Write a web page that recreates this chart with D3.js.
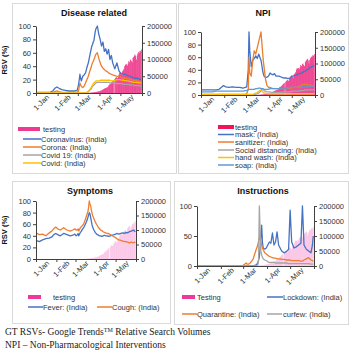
<!DOCTYPE html>
<html>
<head>
<meta charset="utf-8">
<script src="https://cdn.jsdelivr.net/npm/d3@7/dist/d3.min.js"></script>
<style>
body { margin: 0; background: #fff; }
svg { display: block; font-family: "Liberation Sans", Arial, sans-serif; }
</style>
</head>
<body>
<script>
var WIDTH = 350;
var HEIGHT = 361;

// day offsets from 1-Jan-2020 shared by every line series
var days = [0,5,10,15,20,24,27,30,33,37, 42,47,52,56,59,61,63,64,65,67,
            69,71,73,75,77,79,80,81,82,83, 84,85,86,88,90,92,94,96,98,100,
            102,104,106,108,110,113,116,119,121,123, 126,129,132,135,137,139,142,145,148,150,151];

// Disease related
var coronavirus = [1,1,1,1,1,3,7,9,7,5, 4,3,3,3,4,12,28,22,18,25,
                   27,30,38,45,55,65,70,72,76,78, 85,92,96,100,88,80,70,76,62,66,
                   58,65,50,56,45,36,45,33,30,29, 28,27,26,25,24,23,22,22,21,20,20];
var corona = [0,0,0,0,0,1,2,3,2,1, 1,1,1,1,1,3,15,12,10,8,
              10,15,20,25,32,38,42,45,47,50, 52,56,58,60,52,45,40,37,35,33,
              32,30,29,28,27,26,25,24,24,23, 22,22,21,20,20,19,19,18,17,17,16];
var covid19 = [0,0,0,0,0,0,0,0,0,0, 0,0,0,0,0,0,0,0,0,0,
               0,0,1,2,4,6,8,10,11,12, 13,14,15,16,16,16,16,16,16,16,
               16,16,15,15,15,15,14,14,14,14, 13,13,13,12,12,12,11,11,11,10,10];
var covid = [0,0,0,0,0,0,0,0,0,0, 0,0,0,0,0,0,0,0,0,0,
             0,0,0,2,5,8,10,12,14,15, 16,17,18,18,18,19,19,19,19,19,
             19,19,19,18,18,19,20,20,20,19, 19,18,18,17,17,16,16,16,15,15,15];

// NPI
var mask = [8,8,8,8,8,9,12,15,13,12, 13,12,12,11,12,13,40,100,70,45,
            55,58,62,58,65,58,55,48,40,34, 30,29,28,28,30,35,33,32,34,30,
            30,30,29,28,27,27,26,27,30,30, 31,33,34,35,37,38,40,43,45,46,47];
var sanitizer = [1,1,1,1,1,1,1,1,1,1, 1,1,1,1,1,2,10,60,35,30,
                 55,70,65,75,85,95,100,85,70,55, 45,35,25,15,12,12,11,10,10,10,
                 10,10,10,10,10,11,11,11,11,12, 12,13,14,16,17,17,16,16,15,15,15];
var socialDistancing = [0,0,0,0,0,0,0,0,0,0, 0,0,0,0,0,0,0,0,0,0,
                        0,1,1,2,3,5,7,9,8,8, 7,6,6,5,5,5,4,4,4,4,
                        4,4,4,4,5,5,5,5,6,6, 6,6,7,7,7,8,8,8,8,8,8];
var handWash = [1,1,1,1,1,1,1,1,1,1, 1,1,1,1,1,1,1,1,1,1,
                1,2,3,4,6,8,7,6,5,4, 3,3,3,2,2,2,2,2,2,2,
                2,2,2,2,2,2,2,2,2,2, 2,2,2,2,2,2,2,2,2,2,2];
var soap = [5,5,5,5,6,6,6,6,6,6, 6,6,6,6,7,7,8,9,9,9,
            9,9,10,10,11,11,10,10,10,10, 9,9,9,9,9,10,10,10,10,10,
            10,10,11,11,11,11,11,12,12,12, 12,12,12,13,13,13,13,14,14,14,14];

// Symptoms
var fever = [32,30,33,35,36,38,42,44,42,40, 44,42,40,41,43,40,42,44,40,45,
             48,52,55,60,65,72,76,80,78,72, 66,60,55,50,46,43,42,40,40,39,
             40,41,40,40,39,40,41,42,43,44, 43,44,45,44,46,45,47,48,50,48,47];
var cough = [45,42,43,40,45,48,52,55,52,50, 54,50,48,50,52,50,50,52,48,53,
             56,58,62,68,75,82,90,100,95,92, 85,80,75,70,64,60,56,53,50,49,
             47,46,45,44,44,42,40,38,37,35, 33,32,31,30,30,29,28,29,28,29,28];

// Instructions
var lockdown = [0,0,0,0,0,0,0,0,0,0, 0,0,0,0,0,0,0,0,0,0,
                0,0,0,1,2,5,10,15,30,50, 68,40,30,28,30,35,40,38,55,35,
                40,57,35,30,25,22,24,28,93,40, 30,32,35,38,100,35,28,25,22,35,50];
var quarantine = [0,0,0,0,0,0,0,0,0,0, 0,0,0,0,0,2,4,5,3,3,
                  5,8,12,20,28,35,42,48,46,40, 35,30,27,22,20,18,16,15,14,13,
                  13,12,12,12,11,11,10,10,10,9, 9,9,9,8,8,10,12,14,10,9,8];
var curfew = [0,0,0,0,0,0,0,0,0,0, 0,0,0,0,0,0,0,0,0,0,
              0,0,0,0,0,2,10,100,55,25, 18,15,12,10,9,7,6,6,6,6,
              5,5,5,5,5,5,5,4,4,4, 4,4,4,4,4,4,4,4,3,3,3];

// daily tests, from 15-Mar (day 74) to 31-May
var testStart = 74;
var testing = [300,500,600,800,1000,1200,1500,
               1800,2000,2200,2500,2800,3000,3500,
               4000,4500,5000,5500,6000,7000,8000,
               9000,10000,12000,13000,14000,15000,16000,
               17000,18000,22000,25000,26000,28000,30000,
               33000,36000,38000,0,42000,45000,48000,
               46000,45000,52000,55000,60000,62000,58000,
               55000,65000,68000,72000,80000,85000,84000,
               86000,82000,88000,95000,92000,98000,100000,
               95000,92000,105000,108000,112000,115000,110000,
               100000,112000,118000,122000,120000,126000,125000,
               130000];

var rsvTicks = [0,20,40,60,80,100];
var rsvTicksCoarse = [0,50,100];
var testTicks = [0,50000,100000,150000,200000];
var monthTicks = ["2020-01-01","2020-02-01","2020-03-01","2020-04-01","2020-05-01","2020-06-01"];

var BLUE = "#4472c4", ORANGE = "#ed7d31", GREY = "#a5a5a5", GOLD = "#ffc000", SKY = "#5b9bd5";

var parse = d3.timeParse("%Y-%m-%d");
var start = parse("2020-01-01");
var end = parse("2020-06-01");
var months = monthTicks.map(parse);
var fmt = d3.timeFormat("%-d-%b");

var dayDate = function (d) { return d3.timeDay.offset(start, d); };

var svg = d3.select("body").append("svg")
    .attr("width", WIDTH)
    .attr("height", HEIGHT);

var drawPanel = function (p) {
  var g = svg.append("g");

  g.append("rect")
    .attr("x", p.box[0] + 0.5).attr("y", p.box[1] + 0.5)
    .attr("width", p.box[2] - p.box[0]).attr("height", p.box[3] - p.box[1])
    .attr("fill", "#fff").attr("stroke", "#d9d9d9");

  g.append("text")
    .attr("x", p.title[0]).attr("y", p.title[1])
    .attr("text-anchor", "middle")
    .style("font-size", "9px").style("font-weight", "bold").style("fill", "#111")
    .text(p.name);

  var x = d3.scaleTime().domain([start, end]).range([p.x0, p.x1]);
  var y = d3.scaleLinear().domain([0, 100]).range([p.y1, p.y0]);
  var yR = d3.scaleLinear().domain([0, 200000]).range([p.y1, p.y0]);

  // testing bars
  var bw = (x(dayDate(1)) - x(dayDate(0))) * 0.85;
  g.append("g").selectAll("rect")
    .data(testing)
    .enter()
    .append("rect")
    .attr("x", function (d, i) { return x(dayDate(testStart + i)) - bw / 2; })
    .attr("width", bw)
    .attr("y", function (d) { return yR(d); })
    .attr("height", function (d) { return p.y1 - yR(d); })
    .attr("fill", p.barColor);

  // lines
  p.series.forEach(function (s) {
    var line = d3.line()
      .x(function (d, i) { return x(dayDate(days[i])); })
      .y(function (d) { return y(d); });
    g.append("path")
      .attr("d", line(s.values))
      .attr("fill", "none")
      .attr("stroke", s.color)
      .attr("stroke-width", 1.3)
      .attr("stroke-linejoin", "round");
  });

  var styleAxis = function (sel) {
    sel.select(".domain").attr("stroke", "#404040");
    sel.selectAll(".tick line").attr("stroke", "#404040");
    sel.selectAll("text").style("font-size", "7.5px").style("fill", "#333")
      .style("font-family", "\"Liberation Sans\", Arial, sans-serif");
  };

  g.append("g")
    .attr("transform", "translate(" + p.x0 + ",0)")
    .call(d3.axisLeft(y).tickValues(p.leftTicks).tickSize(3).tickSizeOuter(0).tickPadding(2))
    .call(styleAxis);

  g.append("g")
    .attr("transform", "translate(" + p.x1 + ",0)")
    .call(d3.axisRight(yR).tickValues(testTicks).tickSize(3).tickSizeOuter(0).tickPadding(2)
      .tickFormat(d3.format("d")))
    .call(styleAxis);

  var xa = g.append("g")
    .attr("transform", "translate(0," + p.y1 + ")")
    .call(d3.axisBottom(x).tickValues(months).tickSize(3).tickSizeOuter(0)
      .tickFormat(function (d) { return d < end ? fmt(d) : ""; }))
    .call(styleAxis);
  xa.selectAll("text")
    .attr("x", 6).attr("y", 10).attr("dy", "0.35em")
    .attr("transform", "rotate(-45)")
    .style("text-anchor", "end");

  if (p.rsv) {
    g.append("text")
      .attr("transform", "translate(" + p.rsv[0] + "," + p.rsv[1] + ") rotate(-90)")
      .attr("text-anchor", "middle")
      .style("font-size", "7.5px").style("font-weight", "bold").style("fill", "#111")
      .text("RSV (%)");
  }

  // legend
  p.legend.forEach(function (l) {
    if (l.bar) {
      g.append("rect")
        .attr("x", l.x0).attr("y", l.y - 2)
        .attr("width", l.x1 - l.x0).attr("height", 4)
        .attr("fill", l.color);
    } else {
      g.append("line")
        .attr("x1", l.x0).attr("x2", l.x1)
        .attr("y1", l.y).attr("y2", l.y)
        .attr("stroke", l.color).attr("stroke-width", 1.5);
    }
    g.append("text")
      .attr("x", l.tx).attr("y", l.y).attr("dy", "0.35em")
      .style("font-size", "7.5px").style("fill", "#333")
      .text(l.label);
  });
};

drawPanel({
  name: "Disease related", box: [12, 3, 176, 173], title: [94, 16],
  x0: 36, x1: 142, y0: 26, y1: 93, leftTicks: rsvTicks, rsv: [7, 60],
  barColor: "#e8006a",
  series: [
    {values: coronavirus, color: BLUE},
    {values: corona, color: ORANGE},
    {values: covid19, color: GREY},
    {values: covid, color: GOLD}
  ],
  legend: [
    {label: "testing", color: "#f03a92", bar: true, x0: 18, x1: 40, tx: 43, y: 129},
    {label: "Coronavirus: (India)", color: BLUE, x0: 23, x1: 41, tx: 41, y: 139},
    {label: "Corona: (India)", color: ORANGE, x0: 23, x1: 41, tx: 41, y: 147},
    {label: "Covid 19: (India)", color: GREY, x0: 23, x1: 41, tx: 41, y: 155},
    {label: "Covid: (India)", color: GOLD, x0: 23, x1: 41, tx: 41, y: 163}
  ]
});

drawPanel({
  name: "NPI", box: [178, 3, 348, 173], title: [263, 16],
  x0: 201, x1: 315, y0: 32, y1: 95, leftTicks: rsvTicks,
  barColor: "#e8006a",
  series: [
    {values: mask, color: BLUE},
    {values: sanitizer, color: ORANGE},
    {values: socialDistancing, color: GREY},
    {values: handWash, color: GOLD},
    {values: soap, color: SKY}
  ],
  legend: [
    {label: "testing", color: "#f0145a", bar: true, x0: 218, x1: 234, tx: 235, y: 127},
    {label: "mask: (India)", color: BLUE, x0: 218, x1: 234, tx: 235, y: 134.5},
    {label: "sanitizer: (India)", color: ORANGE, x0: 218, x1: 234, tx: 235, y: 142},
    {label: "Social distancing: (India)", color: GREY, x0: 218, x1: 234, tx: 235, y: 150},
    {label: "hand wash: (India)", color: GOLD, x0: 218, x1: 234, tx: 235, y: 157.5},
    {label: "soap: (India)", color: SKY, x0: 218, x1: 234, tx: 235, y: 165}
  ]
});

drawPanel({
  name: "Symptoms", box: [12, 181, 170, 323], title: [90, 194],
  x0: 36, x1: 136, y0: 201, y1: 259, leftTicks: rsvTicks, rsv: [7, 230],
  barColor: "#f9b3de",
  series: [
    {values: fever, color: BLUE},
    {values: cough, color: ORANGE}
  ],
  legend: [
    {label: "testing", color: "#f0379a", bar: true, x0: 28, x1: 41, tx: 53, y: 297},
    {label: "Fever: (India)", color: BLUE, x0: 28, x1: 43, tx: 43, y: 307},
    {label: "Cough: (India)", color: ORANGE, x0: 97, x1: 112, tx: 112, y: 307}
  ]
});

drawPanel({
  name: "Instructions", box: [174, 181, 348, 324], title: [263, 194],
  x0: 197, x1: 314, y0: 206, y1: 266, leftTicks: rsvTicksCoarse,
  barColor: "#f9b3de",
  series: [
    {values: lockdown, color: BLUE},
    {values: quarantine, color: ORANGE},
    {values: curfew, color: GREY}
  ],
  legend: [
    {label: "Testing", color: "#f0379a", bar: true, x0: 182, x1: 195, tx: 197, y: 297},
    {label: "Lockdown: (India)", color: BLUE, x0: 267, x1: 283, tx: 283, y: 297},
    {label: "Quarantine: (India)", color: ORANGE, x0: 182, x1: 197, tx: 197, y: 314},
    {label: "curfew: (India)", color: GREY, x0: 267, x1: 282, tx: 283, y: 314}
  ]
});

// footnotes
var notes = svg.append("g")
  .style("font-family", "\"Liberation Serif\", \"Times New Roman\", serif")
  .style("font-size", "9.5px").style("fill", "#222");
var n1 = notes.append("text").attr("x", 5).attr("y", 335);
n1.append("tspan").text("GT RSVs- Google Trends");
n1.append("tspan").attr("dy", -3).style("font-size", "6px").text("TM");
n1.append("tspan").attr("dy", 3).text(" Relative Search Volumes");
notes.append("text").attr("x", 5).attr("y", 348)
  .text("NPI \u2013 Non-Pharmacological Interventions");
</script>
</body>
</html>
